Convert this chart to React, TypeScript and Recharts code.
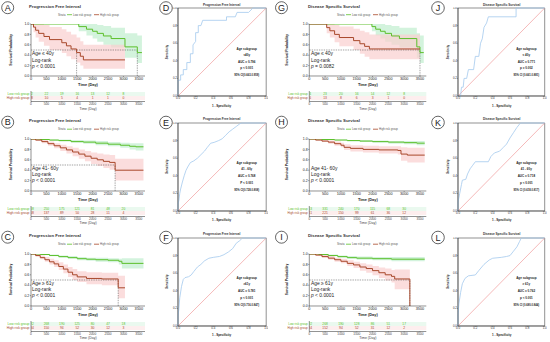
import React from "react";
import {
  ComposedChart,
  Line,
  Area,
  Scatter,
  XAxis,
  YAxis,
  ReferenceLine,
  ReferenceArea,
} from "recharts";

const FONT = "'Liberation Sans', Arial, Helvetica, sans-serif";
const INK = "#222";
const GREEN = "#5cbf2a";
const RED = "#a8472a";
const GREEN_FILL = "#c4efd2";
const RED_FILL = "#f9cfcf";
const ROC_BLUE = "#a3c9ee";
const ROC_DIAG = "#ef8a8a";

type Pt = [number, number];
type Bd = [number, number, number];

const TIME_TICKS = [0, 500, 1000, 1500, 2000, 2500, 3000, 3500];
const TABLE_TIMES = [0, 500, 1000, 1500, 2000, 2500, 3000];
const SURV_TICKS = [0, 0.2, 0.4, 0.6, 0.8, 1];
const ROC_TICKS = [0, 0.2, 0.4, 0.6, 0.8, 1];

const PFI = "Progression Free Interval";
const DSS = "Disease Specific Survival";

// ---- A: PFI, age <= 40 ----
const lowA: Pt[] = [[0, 1], [1550, 0.95], [1800, 0.9], [2000, 0.86], [2150, 0.82], [2350, 0.77], [2600, 0.72], [3050, 0.56], [3450, 0.45], [3600, 0.45]];
const highA: Pt[] = [[0, 1], [80, 0.94], [150, 0.88], [250, 0.82], [420, 0.76], [600, 0.7], [1000, 0.64], [1150, 0.58], [1300, 0.52], [1480, 0.45], [1600, 0.38], [1700, 0.31], [3050, 0.31]];
const lowBandA: Bd[] = [[0, 1, 1], [1550, 0.86, 1], [1800, 0.78, 1], [2000, 0.72, 1], [2150, 0.66, 0.98], [2350, 0.6, 0.96], [2600, 0.55, 0.93], [3050, 0.35, 0.82], [3450, 0.25, 0.78], [3600, 0.25, 0.78]];
const highBandA: Bd[] = [[0, 1, 1], [80, 0.84, 1], [150, 0.74, 1], [250, 0.66, 1], [420, 0.58, 0.98], [600, 0.5, 0.94], [1000, 0.44, 0.9], [1150, 0.38, 0.85], [1300, 0.32, 0.8], [1480, 0.26, 0.74], [1600, 0.2, 0.67], [1700, 0.14, 0.6], [3050, 0.14, 0.6]];
const medianA = [1480, 3450];
const riskLowA = [22, 22, 19, 16, 13, 12, 8];
const riskHighA = [18, 10, 5, 4, 1, 1, 0];

// ---- B: PFI, age 41-60 ----
const lowB: Pt[] = [[0, 1], [300, 0.99], [600, 0.98], [900, 0.97], [1300, 0.95], [1700, 0.94], [2100, 0.92], [2500, 0.9], [2900, 0.88], [3200, 0.86], [3400, 0.85], [3650, 0.85]];
const highB: Pt[] = [[0, 1], [150, 0.98], [350, 0.95], [550, 0.91], [750, 0.87], [950, 0.83], [1150, 0.79], [1350, 0.75], [1550, 0.71], [1750, 0.67], [1950, 0.63], [2150, 0.6], [2350, 0.57], [2550, 0.55], [2730, 0.4], [3650, 0.4]];
const lowBandB: Bd[] = [[0, 1, 1], [300, 0.98, 1], [600, 0.96, 0.99], [900, 0.95, 0.99], [1300, 0.93, 0.98], [1700, 0.91, 0.97], [2100, 0.88, 0.96], [2500, 0.86, 0.94], [2900, 0.83, 0.93], [3200, 0.8, 0.92], [3400, 0.78, 0.92], [3650, 0.78, 0.92]];
const highBandB: Bd[] = [[0, 1, 1], [150, 0.96, 1], [350, 0.92, 0.98], [550, 0.87, 0.95], [750, 0.82, 0.92], [950, 0.77, 0.89], [1150, 0.72, 0.86], [1350, 0.67, 0.83], [1550, 0.62, 0.8], [1750, 0.57, 0.77], [1950, 0.52, 0.74], [2150, 0.48, 0.72], [2350, 0.44, 0.7], [2550, 0.41, 0.69], [2730, 0.2, 0.62], [3650, 0.2, 0.62]];
const medianB = [2730];
const riskLowB = [268, 250, 175, 121, 81, 48, 20];
const riskHighB = [168, 137, 89, 50, 28, 11, 4];

// ---- C: PFI, age >= 61 ----
const lowC: Pt[] = [[0, 1], [300, 0.99], [600, 0.97], [900, 0.95], [1200, 0.93], [1500, 0.91], [1800, 0.9], [2100, 0.89], [2500, 0.88], [2850, 0.86], [2950, 0.82], [3650, 0.82]];
const highC: Pt[] = [[0, 1], [150, 0.97], [300, 0.93], [450, 0.89], [600, 0.85], [750, 0.81], [900, 0.76], [1050, 0.71], [1200, 0.65], [1350, 0.6], [1500, 0.56], [1800, 0.53], [2300, 0.52], [2830, 0.35], [3050, 0.35]];
const lowBandC: Bd[] = [[0, 1, 1], [300, 0.98, 1], [600, 0.96, 0.99], [900, 0.93, 0.97], [1200, 0.91, 0.96], [1500, 0.88, 0.94], [1800, 0.87, 0.93], [2100, 0.85, 0.93], [2500, 0.84, 0.92], [2850, 0.8, 0.91], [2950, 0.72, 0.92], [3650, 0.72, 0.92]];
const highBandC: Bd[] = [[0, 1, 1], [150, 0.95, 1], [300, 0.9, 0.97], [450, 0.85, 0.94], [600, 0.8, 0.91], [750, 0.75, 0.88], [900, 0.69, 0.84], [1050, 0.63, 0.8], [1200, 0.56, 0.75], [1350, 0.5, 0.71], [1500, 0.46, 0.67], [1800, 0.42, 0.65], [2300, 0.4, 0.64], [2830, 0.15, 0.58], [3050, 0.15, 0.58]];
const medianC = [2830];
const riskLowC = [292, 268, 190, 125, 80, 47, 18];
const riskHighC = [184, 150, 94, 52, 30, 12, 3];

// ---- G: DSS, age <= 40 ----
const lowG: Pt[] = [[0, 1], [1980, 0.95], [2100, 0.9], [2250, 0.86], [2400, 0.82], [2600, 0.77], [2850, 0.72], [3400, 0.56], [3500, 0.45], [3620, 0.45]];
const highG: Pt[] = [[0, 1], [550, 0.93], [650, 0.87], [800, 0.8], [950, 0.74], [1400, 0.68], [1600, 0.62], [1750, 0.57], [1900, 0.52], [3500, 0.52]];
const lowBandG: Bd[] = [[0, 1, 1], [1980, 0.86, 1], [2100, 0.78, 1], [2250, 0.72, 1], [2400, 0.66, 0.98], [2600, 0.6, 0.96], [2850, 0.55, 0.93], [3400, 0.35, 0.82], [3500, 0.25, 0.78], [3620, 0.25, 0.78]];
const highBandG: Bd[] = [[0, 1, 1], [550, 0.82, 1], [650, 0.74, 1], [800, 0.65, 0.98], [950, 0.57, 0.95], [1400, 0.5, 0.91], [1600, 0.43, 0.87], [1750, 0.37, 0.84], [1900, 0.32, 0.8], [3500, 0.32, 0.8]];
const medianG = [3500];
const riskLowG = [24, 23, 20, 16, 14, 12, 8];
const riskHighG = [16, 13, 8, 6, 3, 1, 0];

// ---- H: DSS, age 41-60 ----
const lowH: Pt[] = [[0, 1], [400, 0.99], [800, 0.98], [1200, 0.97], [1600, 0.96], [2000, 0.95], [2500, 0.94], [3000, 0.93], [3400, 0.92], [3650, 0.92]];
const highH: Pt[] = [[0, 1], [200, 0.98], [400, 0.96], [600, 0.94], [800, 0.91], [1000, 0.88], [1100, 0.84], [1300, 0.82], [1700, 0.8], [2200, 0.79], [2800, 0.78], [2900, 0.71], [3100, 0.69], [3650, 0.69]];
const lowBandH: Bd[] = [[0, 1, 1], [400, 0.98, 1], [800, 0.97, 0.99], [1200, 0.95, 0.98], [1600, 0.94, 0.98], [2000, 0.93, 0.97], [2500, 0.91, 0.96], [3000, 0.9, 0.96], [3400, 0.88, 0.96], [3650, 0.88, 0.96]];
const highBandH: Bd[] = [[0, 1, 1], [200, 0.97, 1], [400, 0.94, 0.98], [600, 0.91, 0.97], [800, 0.87, 0.95], [1000, 0.84, 0.93], [1100, 0.79, 0.9], [1300, 0.76, 0.88], [1700, 0.74, 0.87], [2200, 0.72, 0.86], [2800, 0.7, 0.86], [2900, 0.58, 0.84], [3100, 0.55, 0.83], [3650, 0.55, 0.83]];
const medianH: number[] = [];
const riskLowH = [353, 331, 240, 170, 115, 68, 30];
const riskHighH = [241, 221, 150, 99, 61, 36, 12];

// ---- I: DSS, age >= 61 ----
const lowI: Pt[] = [[0, 1], [300, 0.99], [600, 0.97], [900, 0.95], [1200, 0.93], [1500, 0.92], [2000, 0.91], [2600, 0.9], [3650, 0.9]];
const highI: Pt[] = [[0, 1], [200, 0.98], [400, 0.95], [600, 0.92], [800, 0.89], [1000, 0.86], [1200, 0.82], [1400, 0.79], [1600, 0.75], [1800, 0.72], [2000, 0.68], [2200, 0.64], [2400, 0.6], [2600, 0.57], [2700, 0.52], [3180, 0]];
const lowBandI: Bd[] = [[0, 1, 1], [300, 0.98, 1], [600, 0.96, 0.99], [900, 0.93, 0.97], [1200, 0.91, 0.96], [1500, 0.89, 0.95], [2000, 0.88, 0.94], [2600, 0.86, 0.94], [3650, 0.86, 0.94]];
const highBandI: Bd[] = [[0, 1, 1], [200, 0.96, 1], [400, 0.93, 0.98], [600, 0.89, 0.96], [800, 0.85, 0.93], [1000, 0.82, 0.91], [1200, 0.77, 0.88], [1400, 0.73, 0.85], [1600, 0.68, 0.82], [1800, 0.64, 0.8], [2000, 0.59, 0.77], [2200, 0.54, 0.74], [2400, 0.49, 0.72], [2600, 0.45, 0.69], [2700, 0.32, 0.7], [3180, 0.32, 0.7]];
const medianI = [3180];
const riskLowI = [292, 268, 190, 128, 86, 51, 17];
const riskHighI = [184, 152, 94, 52, 31, 12, 2];

// ---- ROC curves (fpr, tpr) ----
const rocD: Pt[] = [[0, 0], [0, 0.18], [0.03, 0.18], [0.03, 0.24], [0.06, 0.24], [0.06, 0.3], [0.1, 0.3], [0.1, 0.38], [0.14, 0.38], [0.14, 0.48], [0.17, 0.48], [0.17, 0.58], [0.2, 0.62], [0.2, 0.72], [0.23, 0.72], [0.23, 0.8], [0.26, 0.8], [0.28, 0.86], [0.55, 0.86], [0.55, 0.9], [0.65, 0.9], [0.67, 0.95], [0.8, 0.95], [0.85, 1], [1, 1]];
const rocE: Pt[] = [[0, 0], [0, 0.08], [0.01, 0.12], [0.02, 0.2], [0.03, 0.25], [0.05, 0.33], [0.07, 0.4], [0.09, 0.46], [0.11, 0.5], [0.14, 0.55], [0.18, 0.57], [0.22, 0.6], [0.26, 0.64], [0.3, 0.68], [0.33, 0.72], [0.37, 0.77], [0.41, 0.78], [0.46, 0.8], [0.5, 0.82], [0.54, 0.86], [0.58, 0.9], [0.62, 0.93], [0.66, 0.96], [0.7, 0.99], [0.72, 1], [1, 1]];
const rocF: Pt[] = [[0, 0], [0, 0.1], [0.01, 0.2], [0.02, 0.32], [0.04, 0.45], [0.06, 0.53], [0.08, 0.55], [0.12, 0.56], [0.15, 0.58], [0.18, 0.62], [0.22, 0.67], [0.26, 0.7], [0.3, 0.74], [0.35, 0.77], [0.4, 0.78], [0.47, 0.79], [0.52, 0.81], [0.57, 0.84], [0.62, 0.88], [0.66, 0.94], [0.7, 0.97], [0.73, 1], [1, 1]];
const rocJ: Pt[] = [[0, 0], [0.03, 0], [0.04, 0.1], [0.06, 0.1], [0.07, 0.2], [0.1, 0.2], [0.12, 0.3], [0.18, 0.3], [0.2, 0.45], [0.24, 0.45], [0.26, 0.6], [0.28, 0.65], [0.3, 0.78], [0.33, 0.83], [0.35, 0.9], [0.67, 0.9], [0.67, 1], [1, 1]];
const rocK: Pt[] = [[0, 0], [0, 0.1], [0.02, 0.2], [0.04, 0.3], [0.05, 0.35], [0.09, 0.36], [0.11, 0.42], [0.14, 0.48], [0.17, 0.52], [0.2, 0.56], [0.35, 0.56], [0.38, 0.62], [0.42, 0.66], [0.48, 0.68], [0.52, 0.72], [0.56, 0.76], [0.6, 0.83], [0.64, 0.89], [0.68, 0.95], [0.72, 1], [1, 1]];
const rocL: Pt[] = [[0, 0], [0, 0.12], [0.01, 0.25], [0.03, 0.38], [0.05, 0.48], [0.08, 0.54], [0.12, 0.57], [0.2, 0.58], [0.24, 0.63], [0.3, 0.7], [0.36, 0.75], [0.4, 0.77], [0.5, 0.78], [0.56, 0.79], [0.6, 0.8], [0.64, 0.85], [0.68, 0.9], [0.71, 0.96], [0.73, 1], [1, 1]];

const ROWS = [0, 114.5, 229.5];

const KM_COLS = [
  { ox: 0, badgeX: 7.7, titleX: 29, legendX: 58, plotLeft: 31, plotW: 114, ylabX: 12, annX: 32, rowFont: 3.4 },
  { ox: 275, badgeX: 6.5, titleX: 33, legendX: 62, plotLeft: 34.3, plotW: 117, ylabX: 13, annX: 36, rowFont: 3.0 },
];

const ROC_COLS = [
  { ox: 140, badgeX: 26, boxLeft: 177.5, boxW: 88.2 },
  { ox: 410, badgeX: 28, boxLeft: 458.3, boxW: 86.7 },
];

const KM_PANELS = [
  { letter: "A", col: 0, row: 0, title: PFI, group: "Age ≤ 40y", p: "p < 0.0001", low: lowA, high: highA, lowBand: lowBandA, highBand: highBandA, median: medianA, riskLow: riskLowA, riskHigh: riskHighA },
  { letter: "B", col: 0, row: 1, title: PFI, group: "Age 41- 60y", p: "p < 0.0001", low: lowB, high: highB, lowBand: lowBandB, highBand: highBandB, median: medianB, riskLow: riskLowB, riskHigh: riskHighB },
  { letter: "C", col: 0, row: 2, title: PFI, group: "Age ≥ 61y", p: "p < 0.0001", low: lowC, high: highC, lowBand: lowBandC, highBand: highBandC, median: medianC, riskLow: riskLowC, riskHigh: riskHighC },
  { letter: "G", col: 1, row: 0, title: DSS, group: "Age ≤ 40y", p: "p = 0.0082", low: lowG, high: highG, lowBand: lowBandG, highBand: highBandG, median: medianG, riskLow: riskLowG, riskHigh: riskHighG },
  { letter: "H", col: 1, row: 1, title: DSS, group: "Age 41- 60y", p: "p < 0.0001", low: lowH, high: highH, lowBand: lowBandH, highBand: highBandH, median: medianH, riskLow: riskLowH, riskHigh: riskHighH },
  { letter: "I", col: 1, row: 2, title: DSS, group: "Age ≥ 61y", p: "p < 0.0001", low: lowI, high: highI, lowBand: lowBandI, highBand: highBandI, median: medianI, riskLow: riskLowI, riskHigh: riskHighI },
];

const ROC_PANELS = [
  { letter: "D", col: 0, row: 0, title: PFI, roc: rocD, lines: ["Age subgroup", "≤40y", "AUC = 0.796", "p < 0.001", "95% CI(0.663-0.959)"] },
  { letter: "E", col: 0, row: 1, title: PFI, roc: rocE, lines: ["Age subgroup", "41 - 60y", "AUC = 0.768", "P < 0.001", "95% CI(0.728-0.808)"] },
  { letter: "F", col: 0, row: 2, title: PFI, roc: rocF, lines: ["Age subgroup", "≥61y", "AUC = 0.781", "p < 0.001", "95% CI(0.716-0.847)"] },
  { letter: "J", col: 1, row: 0, title: DSS, roc: rocJ, lines: ["Age subgroup", "≤ 40y", "AUC = 0.771", "p = 0.002", "95% CI (0.661-0.881)"] },
  { letter: "K", col: 1, row: 1, title: DSS, roc: rocK, lines: ["Age subgroup", "41 - 60y", "AUC = 0.718", "p < 0.001", "95% CI (0.618-0.817)"] },
  { letter: "L", col: 1, row: 2, title: DSS, roc: rocL, lines: ["Age subgroup", "≥ 61y", "AUC = 0.762", "p < 0.001", "95% CI (0.680-0.844)"] },
];

const toCurve = (a: Pt[]) => a.map(([t, s]) => ({ t, s }));
const toBand = (a: Bd[]) => a.map(([t, lo, hi]) => ({ t, r: [lo, hi] }));
const toRoc = (a: Pt[]) => a.map(([fpr, tpr]) => ({ fpr, tpr }));

const axisStroke = { stroke: INK, strokeWidth: 0.5 };
const tickStroke = { stroke: INK, strokeWidth: 0.4 };

function KMCharts({ panel }: any) {
  const col = KM_COLS[panel.col];
  const oy = ROWS[panel.row];
  const W = col.plotLeft + col.plotW + 2;
  const maxMed = panel.median.length ? Math.max(...panel.median) : 0;
  const lowRows = panel.riskLow.map((n: number, i: number) => ({ t: TABLE_TIMES[i], y: 0.69, n }));
  const highRows = panel.riskHigh.map((n: number, i: number) => ({ t: TABLE_TIMES[i], y: 0.34, n }));
  const textShape = (color: string) => (p: any) => (
    <text x={p.cx} y={p.cy} dy={1.2} textAnchor="middle" fontSize={3.3} fill={color} fontFamily={FONT}>
      {p.payload.n}
    </text>
  );
  return (
    <>
      <div style={{ position: "absolute", left: col.ox, top: oy }}>
        <ComposedChart width={W} height={90} margin={{ top: 24, right: 2, bottom: 0, left: 0 }}>
          <XAxis type="number" dataKey="t" domain={[0, 3700]} ticks={TIME_TICKS} allowDataOverflow height={14}
            tick={{ fontSize: 3.8, fill: INK, fontFamily: FONT }} tickSize={1.2} tickMargin={0.3}
            axisLine={axisStroke} tickLine={tickStroke} />
          <YAxis type="number" domain={[0, 1]} ticks={SURV_TICKS} width={col.plotLeft} allowDataOverflow
            tickFormatter={(v: number) => v.toFixed(1)} tick={{ fontSize: 3.5, fill: INK, fontFamily: FONT }}
            tickSize={1.2} tickMargin={0.5} axisLine={axisStroke} tickLine={tickStroke} />
          <Area data={toBand(panel.lowBand)} dataKey="r" type="stepAfter" fill={GREEN_FILL} fillOpacity={0.75} stroke="none" isAnimationActive={false} />
          <Area data={toBand(panel.highBand)} dataKey="r" type="stepAfter" fill={RED_FILL} fillOpacity={0.7} stroke="none" isAnimationActive={false} />
          {maxMed > 0 && (
            <ReferenceLine segment={[{ x: 0, y: 0.5 }, { x: maxMed, y: 0.5 }]} stroke="#333" strokeWidth={0.45} strokeDasharray="1.4 1" />
          )}
          {panel.median.map((m: number) => (
            <ReferenceLine key={m} segment={[{ x: m, y: 0 }, { x: m, y: 0.5 }]} stroke="#333" strokeWidth={0.45} strokeDasharray="1.4 1" />
          ))}
          <Line data={toCurve(panel.low)} dataKey="s" type="stepAfter" stroke={GREEN} strokeWidth={1} dot={false} isAnimationActive={false} />
          <Line data={toCurve(panel.high)} dataKey="s" type="stepAfter" stroke={RED} strokeWidth={1} dot={false} isAnimationActive={false} />
        </ComposedChart>
      </div>
      <div style={{ position: "absolute", left: col.ox, top: oy }}>
        <ComposedChart width={W} height={112} margin={{ top: 91, right: 2, bottom: 0, left: 0 }}>
          <XAxis type="number" dataKey="t" domain={[0, 3700]} ticks={TIME_TICKS} allowDataOverflow height={10.5}
            tick={{ fontSize: 3.2, fill: "#444", fontFamily: FONT }} tickSize={1} tickMargin={0.2}
            axisLine={axisStroke} tickLine={tickStroke} />
          <YAxis type="number" dataKey="y" domain={[0, 1]} width={col.plotLeft} tick={false} tickLine={false} axisLine={axisStroke} />
          <ReferenceArea x1={0} x2={3700} y1={0.52} y2={0.9} fill={GREEN_FILL} fillOpacity={0.35} stroke="none" />
          <ReferenceArea x1={0} x2={3700} y1={0.15} y2={0.52} fill={RED_FILL} fillOpacity={0.35} stroke="none" />
          <Scatter data={lowRows} dataKey="y" shape={textShape(GREEN)} isAnimationActive={false} />
          <Scatter data={highRows} dataKey="y" shape={textShape(RED)} isAnimationActive={false} />
        </ComposedChart>
      </div>
    </>
  );
}

function KMText({ panel }: any) {
  const col = KM_COLS[panel.col];
  const ox = col.ox;
  const oy = ROWS[panel.row];
  const cx = ox + col.plotLeft + col.plotW / 2;
  const lx = ox + col.legendX;
  return (
    <g fontFamily={FONT}>
      <circle cx={ox + col.badgeX} cy={oy + 7.7} r={6} fill="none" stroke={INK} strokeWidth={0.7} />
      <text x={ox + col.badgeX} y={oy + 10.9} textAnchor="middle" fontSize={9} fill={INK}>{panel.letter}</text>
      <text x={ox + col.titleX} y={oy + 7.5} fontSize={4.3} fontWeight="bold" fill="#333">{panel.title}</text>
      <text x={lx} y={oy + 15.6} fontSize={2.8} fill="#555">Strata</text>
      <line x1={lx + 9} x2={lx + 14} y1={oy + 14.7} y2={oy + 14.7} stroke={GREEN} strokeWidth={0.8} />
      <text x={lx + 15} y={oy + 15.6} fontSize={2.8} fill="#555">Low risk group</text>
      <line x1={lx + 36} x2={lx + 41} y1={oy + 14.7} y2={oy + 14.7} stroke={RED} strokeWidth={0.8} />
      <text x={lx + 42} y={oy + 15.6} fontSize={2.8} fill="#555">High risk group</text>
      <text transform={`translate(${ox + col.ylabX},${oy + 50}) rotate(-90)`} textAnchor="middle" fontSize={3.4} fontWeight="bold" fill={INK}>
        Survival Probability
      </text>
      <text x={ox + col.annX} y={oy + 55} fontSize={4.9} fill={INK}>{panel.group}</text>
      <text x={ox + col.annX} y={oy + 61.5} fontSize={4.9} fill={INK}>Log-rank</text>
      <text x={ox + col.annX} y={oy + 67.8} fontSize={4.9} fill={INK}>
        <tspan fontStyle="italic">{panel.p.slice(0, 1)}</tspan>{panel.p.slice(1)}
      </text>
      <text x={cx} y={oy + 86.3} textAnchor="middle" fontSize={3.9} fontWeight="bold" fill={INK}>Time (Day)</text>
      <text x={ox + col.plotLeft - 1.5} y={oy + 95.4} textAnchor="end" fontSize={col.rowFont} fill={GREEN}>Low risk group</text>
      <text x={ox + col.plotLeft - 1.5} y={oy + 99.1} textAnchor="end" fontSize={col.rowFont} fill={RED}>High risk group</text>
      <text x={cx} y={oy + 109.5} textAnchor="middle" fontSize={3.5} fill="#444">Time (Day)</text>
    </g>
  );
}

function ROCChart({ panel }: any) {
  const col = ROC_COLS[panel.col];
  const oy = ROWS[panel.row];
  const yw = 6;
  const xh = 5.5;
  return (
    <div style={{ position: "absolute", left: col.boxLeft - yw, top: oy + 7 }}>
      <ComposedChart width={yw + col.boxW + 2} height={1 + 88 + xh} margin={{ top: 1, right: 2, bottom: 0, left: 0 }}>
        <XAxis type="number" dataKey="fpr" domain={[0, 1]} ticks={ROC_TICKS} height={xh} interval={0}
          tickFormatter={(v: number) => v.toFixed(1)} tick={{ fontSize: 2.9, fill: "#333", fontFamily: FONT }}
          tickSize={0.8} tickMargin={0.3} axisLine={axisStroke} tickLine={tickStroke} />
        <YAxis type="number" domain={[0, 1]} ticks={ROC_TICKS} width={yw} interval={0}
          tickFormatter={(v: number) => v.toFixed(1)} tick={{ fontSize: 2.9, fill: "#333", fontFamily: FONT }}
          tickSize={0.8} tickMargin={0.3} axisLine={axisStroke} tickLine={tickStroke} />
        <ReferenceArea x1={0} x2={1} y1={0} y2={1} fill="none" stroke={INK} strokeWidth={0.5} />
        <ReferenceLine segment={[{ x: 0, y: 0 }, { x: 1, y: 1 }]} stroke={ROC_DIAG} strokeWidth={0.6} />
        <Line data={toRoc(panel.roc)} dataKey="tpr" type="linear" stroke={ROC_BLUE} strokeWidth={0.8} dot={false} isAnimationActive={false} />
      </ComposedChart>
    </div>
  );
}

function ROCText({ panel }: any) {
  const col = ROC_COLS[panel.col];
  const oy = ROWS[panel.row];
  const bx = col.ox + col.badgeX;
  const tx = col.boxLeft + col.boxW * 0.785;
  const ys = [48.6, 54.6, 61.6, 68.2, 75];
  return (
    <g fontFamily={FONT}>
      <circle cx={bx} cy={oy + 8} r={6.3} fill="#fff" stroke={INK} strokeWidth={0.7} />
      <text x={bx} y={oy + 11.3} textAnchor="middle" fontSize={9} fill={INK}>{panel.letter}</text>
      <text x={col.boxLeft + col.boxW / 2} y={oy + 5.8} textAnchor="middle" fontSize={3.1} fontWeight="bold" fill="#333">{panel.title}</text>
      <text transform={`translate(${col.boxLeft - 9.5},${oy + 52}) rotate(-90)`} textAnchor="middle" fontSize={2.9} fontWeight="bold" fill={INK}>
        Sensitivity
      </text>
      <text x={col.boxLeft + col.boxW / 2} y={oy + 106.8} textAnchor="middle" fontSize={3} fontWeight="bold" fill={INK}>1 - Specificity</text>
      {panel.lines.map((s: string, i: number) => (
        <text key={i} x={tx} y={oy + ys[i] + 1} textAnchor="middle" fontSize={i === 4 ? 2.7 : 3} fontWeight="bold" fill={INK}>{s}</text>
      ))}
    </g>
  );
}

export default function App() {
  return (
    <div style={{ position: "relative", width: 550, height: 342, background: "#fff", overflow: "hidden", fontFamily: FONT }}>
      <style>{`body{margin:0}`}</style>
      {KM_PANELS.map((p) => <KMCharts key={p.letter} panel={p} />)}
      {ROC_PANELS.map((p) => <ROCChart key={p.letter} panel={p} />)}
      <svg width={550} height={342} style={{ position: "absolute", left: 0, top: 0, pointerEvents: "none" }}>
        {KM_PANELS.map((p) => <KMText key={p.letter} panel={p} />)}
        {ROC_PANELS.map((p) => <ROCText key={p.letter} panel={p} />)}
      </svg>
    </div>
  );
}
